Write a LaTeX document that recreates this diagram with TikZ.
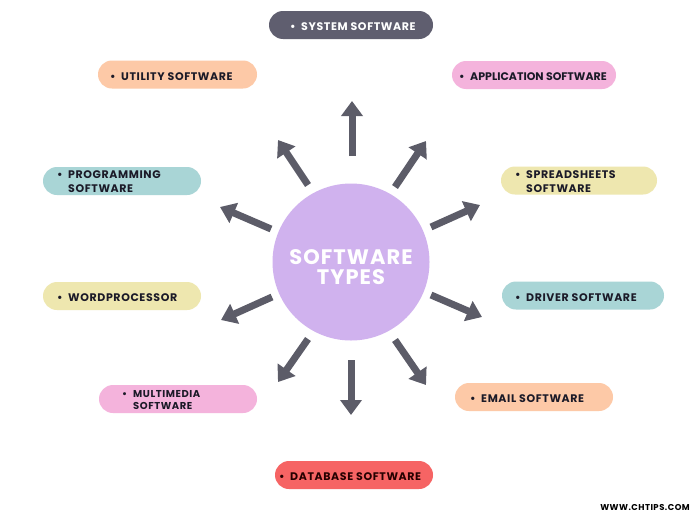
\documentclass[tikz,border=0pt]{standalone}
\usepackage{fontspec}
\setmainfont{Poppins}[LetterSpace=5.5]
\usetikzlibrary{arrows.meta}
\definecolor{sysc}{HTML}{5F5E6F}
\definecolor{peach}{HTML}{FDC9A7}
\definecolor{pinkc}{HTML}{F4B3DC}
\definecolor{tealc}{HTML}{A9D5D6}
\definecolor{yelc}{HTML}{EEE7AF}
\definecolor{redc}{HTML}{F66464}
\definecolor{lav}{HTML}{D0B2EE}
\definecolor{arrc}{HTML}{5C5C68}
\definecolor{txtc}{HTML}{1B1A28}
\newcommand\bl{\makebox[11pt][l]{•}}
\newcommand\twol[2]{\bl\begin{tabular}[t]{@{}l@{}}#1\\#2\end{tabular}}
\tikzset{
  pill/.style={rectangle, rounded corners=14pt, minimum height=28pt, inner sep=0pt, draw=none},
  lbl/.style={inner sep=0pt, anchor=west, text=txtc, font=\fontsize{11}{14}\selectfont\bfseries, align=left},
  arr/.style={draw=arrc, line width=7pt, -{Triangle[length=15pt,width=21pt]}},
}
\begin{document}
\begin{tikzpicture}[x=1pt,y=-1pt]
\useasboundingbox[fill=white] (0,0) rectangle (700,525);
% central circle
\node[circle, fill=lav, minimum size=157pt, inner sep=0pt] (core) at (351,262) {};
\node[text=white, font=\fontsize{21}{21}\selectfont\bfseries\addfontfeatures{LetterSpace=5}, align=center, inner sep=0pt] (coreT) at (351,267) {SOFTWARE\\[-1pt]TYPES};
% boxes
\node[pill, fill=sysc, minimum width=164pt] (sys) at (351,25) {};
\node[lbl, text=white] (sysT) at (290,27) {\bl SYSTEM SOFTWARE};
\node[pill, fill=peach, minimum width=159pt] (util) at (177.5,74.5) {};
\node[lbl] (utilT) at (110,76.5) {\bl UTILITY SOFTWARE};
\node[pill, fill=pinkc, minimum width=164pt] (app) at (534,75) {};
\node[lbl, font=\fontsize{11}{14}\selectfont\bfseries\addfontfeatures{LetterSpace=0}] (appT) at (459,77) {\bl APPLICATION SOFTWARE};
\node[pill, fill=tealc, minimum width=158pt] (prog) at (122,181) {};
\node[lbl] (progT) at (57,183) {\twol{PROGRAMMING}{SOFTWARE}};
\node[pill, fill=yelc, minimum width=156pt] (spread) at (579,180.5) {};
\node[lbl] (spreadT) at (515,182.5) {\twol{SPREADSHEETS}{SOFTWARE}};
\node[pill, fill=yelc, minimum width=158pt] (word) at (122,296) {};
\node[lbl] (wordT) at (57,298) {\bl WORDPROCESSOR};
\node[pill, fill=tealc, minimum width=162pt] (driver) at (583,295.5) {};
\node[lbl] (driverT) at (515,297.5) {\bl DRIVER SOFTWARE};
\node[pill, fill=pinkc, minimum width=158pt] (multi) at (178,399) {};
\node[lbl, font=\fontsize{10}{12}\selectfont\bfseries] (multiT) at (122,401) {\twol{MULTIMEDIA}{SOFTWARE}};
\node[pill, fill=peach, minimum width=158pt] (email) at (534,397) {};
\node[lbl] (emailT) at (470,399) {\bl EMAIL SOFTWARE};
\node[pill, fill=redc, minimum width=158pt] (db) at (354,475) {};
\node[lbl, text=black!85!red] (dbT) at (279,477) {\bl DATABASE SOFTWARE};
% watermark
\node[inner sep=0pt, font=\fontsize{8.5}{9}\selectfont\bfseries] (wm) at (645,507) {WWW.CHTIPS.COM};
% arrows
\coordinate (t1) at (352,156); \coordinate (h1) at (352,101);
\coordinate (t2) at (395,187); \coordinate (h2) at (426,141);
\coordinate (t3) at (431,227); \coordinate (h3) at (480,205);
\coordinate (t4) at (431,295); \coordinate (h4) at (482,317);
\coordinate (t5) at (395,340); \coordinate (h5) at (426,385);
\coordinate (t6) at (351,360); \coordinate (h6) at (351,415);
\coordinate (t7) at (308,339); \coordinate (h7) at (278,382);
\coordinate (t8) at (272,297); \coordinate (h8) at (221,320);
\coordinate (t9) at (271,229); \coordinate (h9) at (220,207);
\coordinate (t10) at (308,185); \coordinate (h10) at (278,140);
\foreach \i in {1,...,10} {\draw[arr] (t\i) -- (h\i);}
\end{tikzpicture}
\end{document}
